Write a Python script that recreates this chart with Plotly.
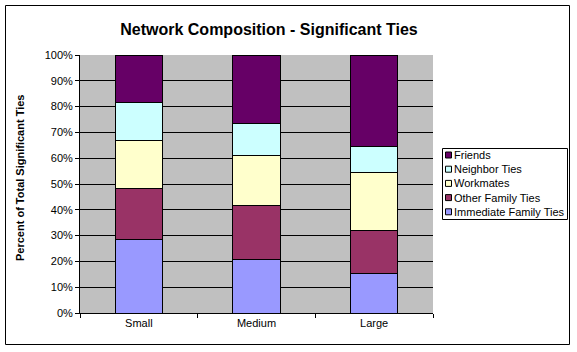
import plotly.graph_objects as go

categories = ["Small", "Medium", "Large"]
series_names = ["Immediate Family Ties", "Other Family Ties", "Workmates", "Neighbor Ties", "Friends"]
immediate_family = [28.6, 20.9, 15.5]
other_family = [19.7, 20.9, 16.6]
workmates = [18.6, 19.3, 22.4]
neighbor = [14.7, 12.4, 10.1]
friends = [18.4, 26.5, 35.4]
series_values = [immediate_family, other_family, workmates, neighbor, friends]
colors = ["#9999FF", "#993366", "#FFFFCC", "#CCFFFF", "#660066"]

W, H = 577, 352
L, R, T, B = 80, 144, 55, 39
PW = W - L - R
PH = H - T - B
FONT = "Liberation Sans, Arial, sans-serif"


def px_x(px):
    return (px - L) / PW


def px_y(py):
    return (H - B - py) / PH


fig = go.Figure()
for name, vals, col in zip(series_names, series_values, colors):
    fig.add_trace(go.Bar(
        x=categories, y=vals, name=name,
        marker=dict(color=col, line=dict(color="black", width=1)),
        showlegend=False,
    ))

shapes = []
annotations = []
# outer chart border
shapes.append(dict(type="rect", xref="paper", yref="paper",
                   x0=px_x(5.5), x1=px_x(569.5), y0=px_y(344.5), y1=px_y(5.5),
                   line=dict(color="black", width=1), fillcolor="rgba(0,0,0,0)"))
# legend box
shapes.append(dict(type="rect", xref="paper", yref="paper",
                   x0=px_x(442.5), x1=px_x(567.5), y0=px_y(219.5), y1=px_y(148.5),
                   line=dict(color="black", width=1), fillcolor="white"))
item_y0 = 155
step = 14.2
for i, (name, col) in enumerate(reversed(list(zip(series_names, colors)))):
    cy = item_y0 + i * step
    shapes.append(dict(type="rect", xref="paper", yref="paper",
                       x0=px_x(445.5), x1=px_x(451.5), y0=px_y(cy + 3), y1=px_y(cy - 3),
                       line=dict(color="black", width=1), fillcolor=col))
    annotations.append(dict(text=name, xref="paper", yref="paper",
                            x=px_x(452), y=px_y(cy), xanchor="left", yanchor="middle",
                            showarrow=False, font=dict(family=FONT, size=11, color="black")))

# y-axis title
annotations.append(dict(text="<b>Percent of Total Significant Ties</b>", xref="paper", yref="paper",
                        x=px_x(20), y=px_y(178), xanchor="center", yanchor="middle",
                        textangle=-90, showarrow=False,
                        font=dict(family=FONT, size=11, color="black")))

fig.update_layout(
    width=W, height=H,
    margin=dict(l=L, r=R, t=T, b=B),
    paper_bgcolor="white",
    plot_bgcolor="#C0C0C0",
    barmode="stack",
    bargap=0.6,
    font=dict(family=FONT, size=11, color="black"),
    title=dict(text="<b>Network Composition - Significant Ties</b>",
               x=269 / W, xref="container", xanchor="center",
               y=1 - 29 / H, yref="container", yanchor="middle",
               font=dict(family=FONT, size=16, color="black")),
    shapes=shapes,
    annotations=annotations,
    showlegend=False,
)
fig.update_xaxes(
    showgrid=False, showline=True, linecolor="black", linewidth=1,
    ticks="outside", tickson="boundaries", ticklen=4, tickcolor="black",
    tickfont=dict(family=FONT, size=11), zeroline=False,
)
fig.update_yaxes(
    range=[0, 100], dtick=10, ticksuffix="%",
    showgrid=True, gridcolor="black", gridwidth=1,
    showline=True, linecolor="black", linewidth=1,
    ticks="outside", ticklen=4, tickcolor="black",
    tickfont=dict(family=FONT, size=11), zeroline=False,
)

fig.write_html("out.html")
